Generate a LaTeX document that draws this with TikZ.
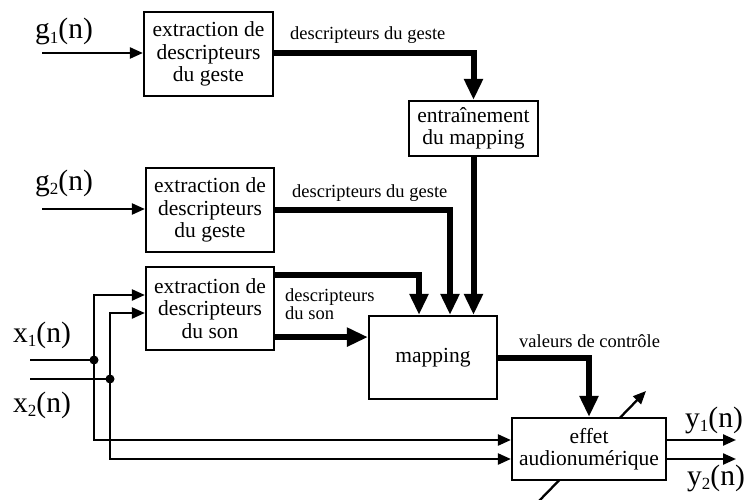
\documentclass[tikz,border=0pt]{standalone}
\usepackage{fontspec}
\setmainfont{Liberation Serif}
\usetikzlibrary{arrows.meta,calc}
\newcommand\sigsub[1]{\raisebox{-4.5pt}{\fontsize{17}{17}\selectfont #1}}
\begin{document}
\begin{tikzpicture}[x=1pt,y=-1pt,
  blk/.style={draw,line width=2.2pt,fill=white,align=center,inner sep=0pt,font=\fontsize{21.5}{22.5}\selectfont},
  sigarr/.style={line width=2.3pt,-{Triangle[length=13pt,width=11pt]}},
  sigline/.style={line width=2.3pt},
  dataarr/.style={line width=6pt,-{Triangle[length=21pt,width=18pt]}},
  lbl/.style={anchor=base west,inner sep=0pt,font=\fontsize{18.5}{18}\selectfont},
  sig/.style={anchor=base west,inner sep=0pt,font=\fontsize{29.5}{30}\selectfont}]
\useasboundingbox (0,0) rectangle (747,500);
% diagonal control arrow through the effect block
\coordinate (dA) at (538,502);
\coordinate (dB) at (646,391);
\draw[sigarr] (dA) -- (dB);
% blocks
\node[blk,minimum width=129pt,minimum height=84pt] (b1) at (208.5,54) {extraction de\\descripteurs\\du geste};
\node[blk,minimum width=128pt,minimum height=84pt] (b2) at (210,210) {extraction de\\descripteurs\\du geste};
\node[blk,minimum width=128pt,minimum height=83pt] (b3) at (210,308.5) {extraction de\\descripteurs\\du son};
\node[blk,minimum width=129pt,minimum height=55pt] (ent) at (473.5,128.5) {entraînement\\du mapping};
\node[blk,minimum width=128pt,minimum height=83pt] (map) at (433,357.5) {mapping};
\node[blk,minimum width=154pt,minimum height=62pt] (eff) at (589,449) {effet\\audionumérique};
% signal names
\node[sig] (tg1) at (35,39) {g\sigsub{1}(n)};
\node[sig] (tg2) at (35,190) {g\sigsub{2}(n)};
\node[sig] (tx1) at (13,342) {x\sigsub{1}(n)};
\node[sig] (tx2) at (13,412) {x\sigsub{2}(n)};
\node[sig] (ty1) at (685,427) {y\sigsub{1}(n)};
\node[sig] (ty2) at (687,485) {y\sigsub{2}(n)};
% labels
\node[lbl] (l1) at (290,40) {descripteurs du geste};
\node[lbl] (l2) at (292,197) {descripteurs du geste};
\node[lbl] (l3a) at (285,301) {descripteurs};
\node[lbl] (l3b) at (285,319) {du son};
\node[lbl] (l4) at (519,347) {valeurs de contrôle};
% gesture inputs
\coordinate (g1s) at (42,53);
\draw[sigarr] (g1s) -- (g1s -| b1.west);
\coordinate (g2s) at (42,209);
\draw[sigarr] (g2s) -- (g2s -| b2.west);
% data paths
\draw[dataarr] (b1.east |- g1s) -| (ent.north);
\draw[dataarr] (ent.south) -- (ent.south |- map.north);
\coordinate (m2) at ($(map.north)+(17,0)$);
\draw[dataarr] (b2.east) -| (m2);
\coordinate (m3) at ($(map.north)+(-14,0)$);
\draw[dataarr] ($(b3.north east)+(0,9)$) -| (m3);
\coordinate (s3) at ($(b3.south east)+(0,-14)$);
\draw[dataarr] (s3) -- (s3 -| map.west);
\draw[dataarr] (map.east) -| (eff.north);
% audio inputs
\coordinate (x1s) at (30,360);
\coordinate (x1d) at (94,360);
\coordinate (x1t) at (94,295);
\coordinate (x1b) at (94,440);
\coordinate (x2s) at (30,379);
\coordinate (x2d) at (110,379);
\coordinate (x2t) at (110,313);
\coordinate (x2b) at (110,459);
\draw[sigline] (x1s) -- (x1d);
\draw[sigline] (x2s) -- (x2d);
\draw[sigarr] (x1d) -- (x1t) -- (x1t -| b3.west);
\draw[sigarr] (x1d) -- (x1b) -- (x1b -| eff.west);
\draw[sigarr] (x2d) -- (x2t) -- (x2t -| b3.west);
\draw[sigarr] (x2d) -- (x2b) -- (x2b -| eff.west);
\fill (x1d) circle (4.5pt);
\fill (x2d) circle (4.5pt);
% outputs
\coordinate (y1e) at (736,440);
\coordinate (y2e) at (736,459);
\draw[sigarr] (eff.east |- y1e) -- (y1e);
\draw[sigarr] (eff.east |- y2e) -- (y2e);
\end{tikzpicture}
\end{document}
